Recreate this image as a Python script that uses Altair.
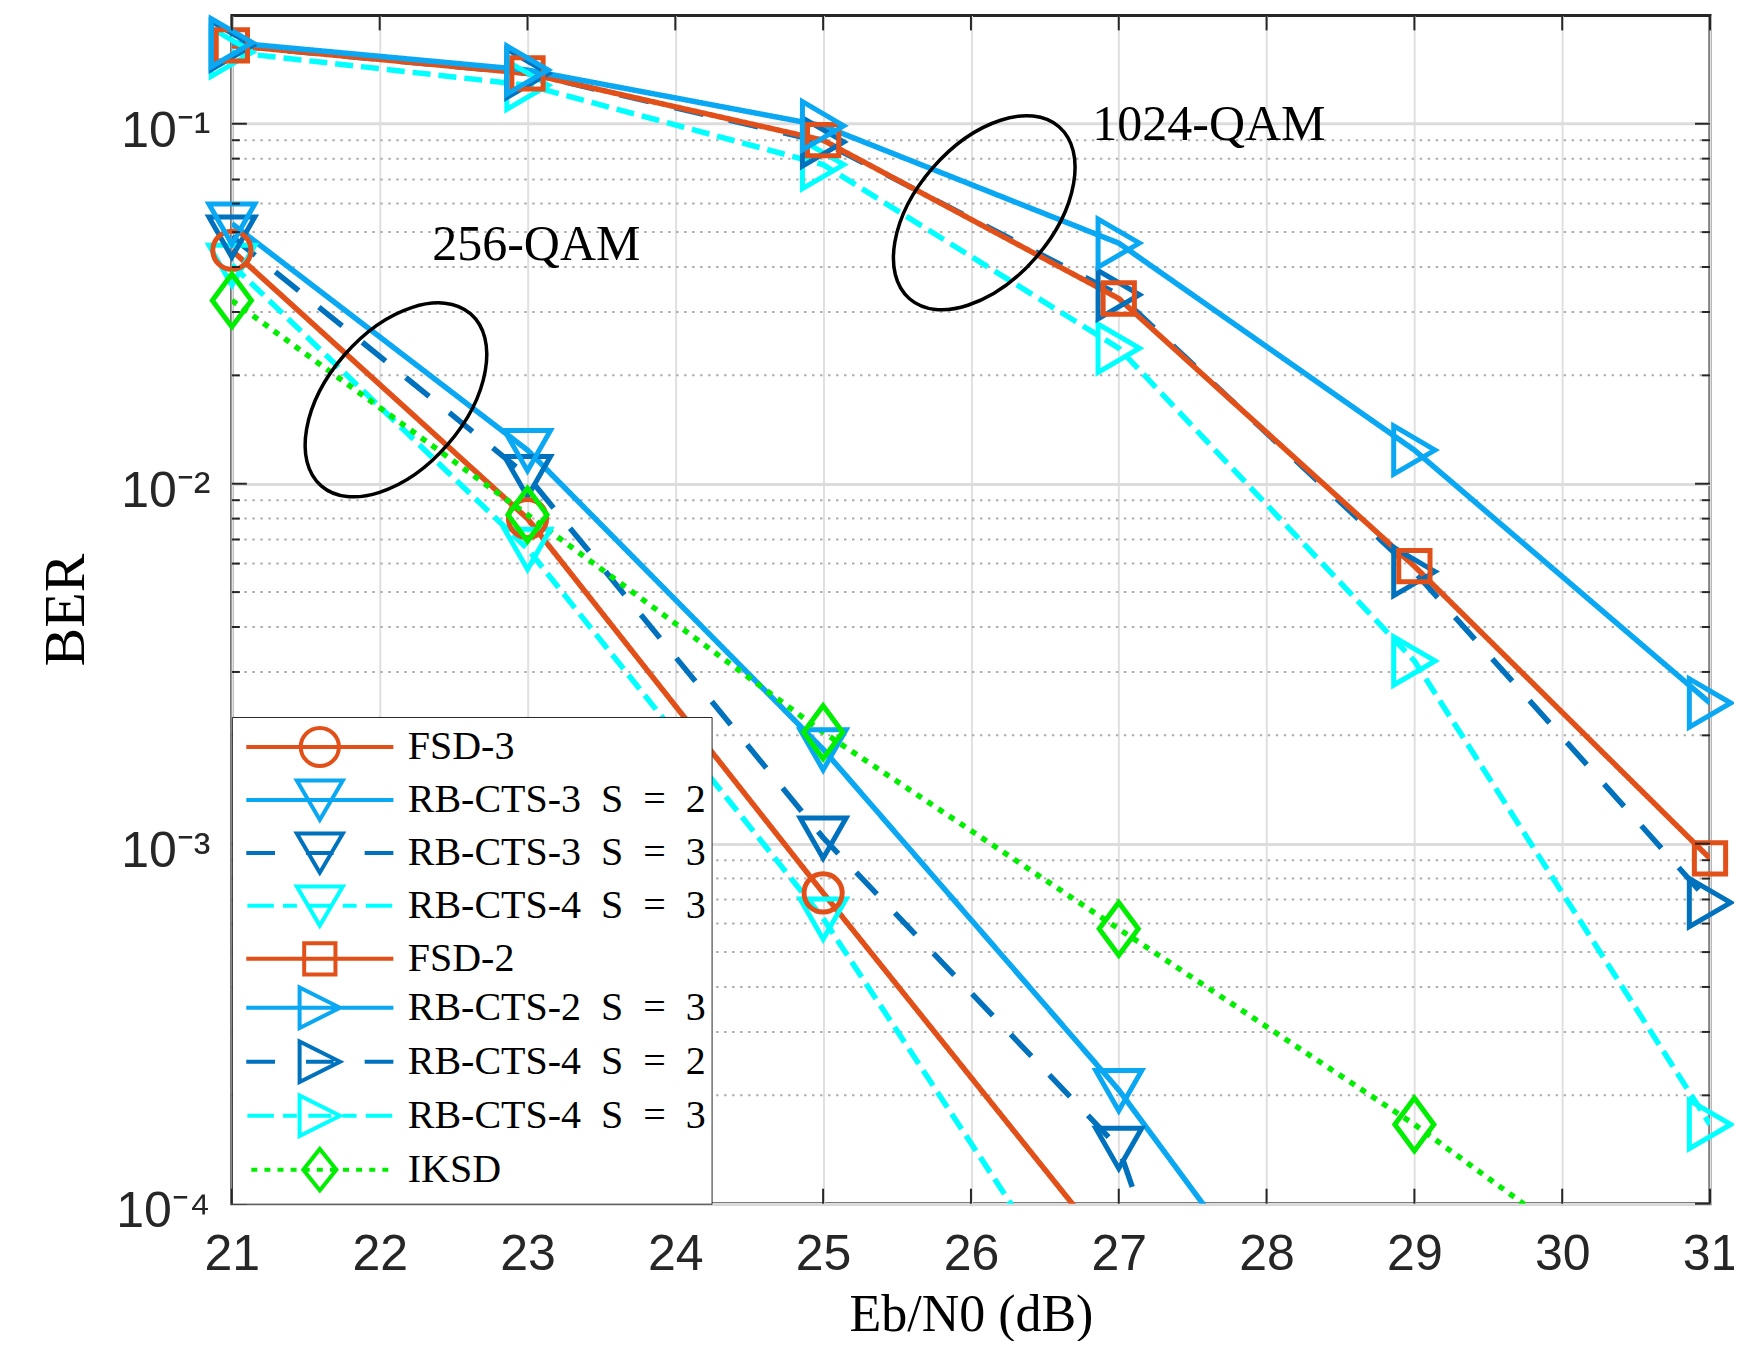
import altair as alt
import pandas as pd

# ---------------- data ----------------
SNR = [21, 23, 25, 27, 29, 31]

SP = "\u2002"   # wide space (256-QAM group labels)
FS = "\u2007"   # figure space (1024-QAM group labels)
SERIES = [
    "FSD-3",
    f"RB-CTS-3{SP}S{SP}={SP}2",
    f"RB-CTS-3{SP}S{SP}={SP}3",
    f"RB-CTS-4{SP}S{SP}={SP}3",
    "FSD-2",
    f"RB-CTS-2{FS}S{FS}={FS}3",
    f"RB-CTS-4{FS}S{FS}={FS}2",
    f"RB-CTS-4{FS}S{FS}={FS}3",
    "IKSD",
]

# 256-QAM curves
fsd3 = [0.0445, 0.0080, 7.3e-4, 6.9e-5]
rb3_s2 = [0.0528, 0.0124, 1.83e-3, 2.07e-4, 1.6e-5]
rb3_s3 = [0.0486, 0.0105, 1.04e-3, 1.43e-4, 6e-7]
rb4_s3_256 = [0.0406, 0.0066, 6.2e-4, 3.5e-5]
iksd = [0.0323, 0.0082, 2.04e-3, 5.8e-4, 1.66e-4, 4.2e-5]
# 1024-QAM curves
fsd2 = [0.165, 0.138, 0.090, 0.0327, 0.0059, 9.1e-4]
rb2_s3 = [0.168, 0.141, 0.0987, 0.0466, 0.0124, 2.46e-3]
rb4_s2 = [0.165, 0.138, 0.089, 0.0335, 0.0057, 6.86e-4]
rb4_s3_1024 = [0.158, 0.128, 0.077, 0.0238, 0.00322, 1.66e-4]

VALUES = [fsd3, rb3_s2, rb3_s3, rb4_s3_256, fsd2, rb2_s3, rb4_s2, rb4_s3_1024, iksd]
DRAW_ORDER = [3, 2, 0, 1, 7, 6, 4, 5, 8]   # which curve is painted over which

X_TICKS = [21, 22, 23, 24, 25, 26, 27, 28, 29, 30, 31]
Y_MAJOR = [1e-4, 1e-3, 1e-2, 1e-1]
Y_MINOR = [2e-4, 3e-4, 4e-4, 5e-4, 6e-4, 7e-4, 8e-4, 9e-4,
           2e-3, 3e-3, 4e-3, 5e-3, 6e-3, 7e-3, 8e-3, 9e-3,
           2e-2, 3e-2, 4e-2, 5e-2, 6e-2, 7e-2, 8e-2, 9e-2]

ANNOT_TEXT = ["256-QAM", "1024-QAM"]
ANNOT_TEXT_X = [23.06, 27.61]
ANNOT_TEXT_Y = [0.0461, 0.0994]
ELLIPSE_X = [22.11, 26.09]
ELLIPSE_Y = [0.0171, 0.0566]

# ---------------- styles ----------------
ORANGE = "#E2501A"
LBLUE = "#0AA8F2"
DBLUE = "#0072BD"
CYAN = "#00FFFF"
GREEN = "#00EE00"
COLORS = [ORANGE, LBLUE, DBLUE, CYAN, ORANGE, LBLUE, DBLUE, CYAN, GREEN]
DASHES = [[1, 0], [1, 0], [30, 26], [18, 8], [1, 0], [1, 0], [30, 26], [18, 8], [6, 7]]

# plot markers (unit = 23 px)
CIRCLE = ("M 0.83 0 C 0.83 0.4584 0.4584 0.83 0 0.83 C -0.4584 0.83 -0.83 0.4584 -0.83 0 "
          "C -0.83 -0.4584 -0.4584 -0.83 0 -0.83 C 0.4584 -0.83 0.83 -0.4584 0.83 0 Z")
TRI_DOWN = "M 0 0.9 L -1 -0.85 L 1 -0.85 Z"
SQUARE = "M -0.68 -0.68 L 0.68 -0.68 L 0.68 0.68 L -0.68 0.68 Z"
TRI_RIGHT = "M 0.9 0 L -0.9 -1.05 L -0.9 1.05 Z"
DIAMOND = "M 0 -1.15 L 0.85 0 L 0 1.15 L -0.85 0 Z"
MARKERS = [CIRCLE, TRI_DOWN, TRI_DOWN, TRI_DOWN, SQUARE, TRI_RIGHT, TRI_RIGHT, TRI_RIGHT, DIAMOND]

# legend markers (slightly flatter so the rows stay close together)
LG_TRI_DOWN = "M 0 0.86 L -1 -0.84 L 1 -0.84 Z"
LG_TRI_RIGHT = "M 0.88 0 L -0.88 -0.88 L -0.88 0.88 Z"
LG_DIAMOND = "M 0 -0.9 L 0.72 0 L 0 0.9 L -0.72 0 Z"
LG_MARKERS = [CIRCLE, LG_TRI_DOWN, LG_TRI_DOWN, LG_TRI_DOWN, SQUARE,
              LG_TRI_RIGHT, LG_TRI_RIGHT, LG_TRI_RIGHT, LG_DIAMOND]

L_SOLID = "M -3.2 0 L 3.2 0"
L_DASH = "M -3.2 0 L -1.95 0 M -0.6 0 L 0.6 0 M 1.95 0 L 3.2 0"
L_SHORTDASH = "M -3.15 0 L -2.0 0 M -1.6 0 L -1.0 0 M -0.5 0 L 0.5 0 M 1.0 0 L 1.6 0 M 2.0 0 L 3.15 0"
L_DOT = " ".join(f"M {c - 0.13:.2f} 0 L {c + 0.13:.2f} 0" for c in
                 [-2.85, -2.28, -1.71, -1.14, -0.57, 0.0, 0.57, 1.14, 1.71, 2.28, 2.85])
LINE_PATHS = [L_SOLID, L_SOLID, L_DASH, L_SHORTDASH, L_SOLID, L_SOLID, L_DASH, L_SHORTDASH, L_DOT]
LEGEND_SHAPES = [l + " " + m for l, m in zip(LINE_PATHS, LG_MARKERS)]

ELLIPSE = ("M 1 0 C 1 0.3314 0.5523 0.6 0 0.6 C -0.5523 0.6 -1 0.3314 -1 0 "
           "C -1 -0.3314 -0.5523 -0.6 0 -0.6 C 0.5523 -0.6 1 -0.3314 1 0 Z")

W, H = 1479, 1189
SERIF = "Liberation Serif"
SANS = "Liberation Sans Narrow, Liberation Sans, Arial"

# ---------------- tables ----------------
rows = []
for i in DRAW_ORDER:
    for x, y in zip(SNR, VALUES[i]):
        rows.append({"s": SERIES[i], "x": x, "y": y})
df = pd.DataFrame(rows)

xs = alt.Scale(domain=[21, 31], nice=False, zero=False)
ys = alt.Scale(type="log", domain=[1e-4, 0.2], nice=False)
col_scale = alt.Scale(domain=SERIES, range=COLORS)

x_axis = alt.Axis(values=X_TICKS, format="d", title="Eb/N0 (dB)", titleFont=SERIF,
                  titleFontSize=52, titleFontWeight="normal", titleColor="black",
                  titlePadding=10, labelFont=SANS, labelFontSize=50, labelColor="#262626",
                  labelPadding=26, ticks=False, domain=False, grid=True,
                  gridColor="#E0E0E0", gridWidth=2, labelFlush=False)
y_axis = alt.Axis(values=Y_MAJOR, title="BER", titleFont=SERIF, titleFontSize=58,
                  titleFontWeight="normal", titleColor="black", titlePadding=20,
                  labelFont=SANS, labelFontSize=50, labelColor="#262626", labelPadding=22,
                  labelOffset=8,
                  labelExpr="datum.value > 0.05 ? '10\u207b\u00b9' : datum.value > 0.005 ? '10\u207b\u00b2' : datum.value > 0.0005 ? '10\u207b\u00b3' : '10\u207b\u2074'",
                  ticks=False, domain=False, grid=True, gridColor="#DCDCDC", gridWidth=3)


def X(field):
    return alt.X(field, type="quantitative", scale=xs, axis=x_axis)


def Y(field):
    return alt.Y(field, type="quantitative", scale=ys, axis=y_axis)


minor_df = pd.DataFrame({"ym": Y_MINOR})
minor = alt.Chart(minor_df).mark_rule(color="#AFAFAF", strokeWidth=2, strokeDash=[2.5, 5.5]).encode(
    y=Y("ym")
)

lines = alt.Chart(df).mark_line(strokeWidth=5.5, clip=True).encode(
    x=X("x"),
    y=Y("y"),
    color=alt.Color("s:N", scale=col_scale, legend=None),
    strokeDash=alt.StrokeDash("s:N", scale=alt.Scale(domain=SERIES, range=DASHES), legend=None),
)

points = alt.Chart(df).transform_filter(alt.datum.y >= 1e-4).mark_point(
    filled=False, size=2116, strokeWidth=5, opacity=1
).encode(
    x=X("x"),
    y=Y("y"),
    color=alt.Color("s:N", scale=col_scale, legend=None),
    shape=alt.Shape("s:N", scale=alt.Scale(domain=SERIES, range=MARKERS), legend=None),
)

ell_df = pd.DataFrame({"x": ELLIPSE_X, "y": ELLIPSE_Y})
ellipses = alt.Chart(ell_df).mark_point(
    shape=ELLIPSE, size=51984, angle=311, filled=False, color="black", strokeWidth=3.5, opacity=1
).encode(x=X("x"), y=Y("y"))

txt_df = pd.DataFrame({"x": ANNOT_TEXT_X, "y": ANNOT_TEXT_Y, "t": ANNOT_TEXT})
texts = alt.Chart(txt_df).mark_text(font=SERIF, fontSize=50, color="black", baseline="middle").encode(
    x=X("x"), y=Y("y"), text="t:N",
)

xt_df = pd.DataFrame({"x": X_TICKS})
ymaj_df = pd.DataFrame({"y": Y_MAJOR})
ymin_df = pd.DataFrame({"y": Y_MINOR})
tick_style = dict(color="#262626", strokeWidth=2)
xt_bottom = alt.Chart(xt_df).mark_rule(**tick_style).encode(
    x=X("x"), y=alt.value(H), y2=alt.value(H - 15))
xt_top = alt.Chart(xt_df).mark_rule(**tick_style).encode(
    x=X("x"), y=alt.value(0), y2=alt.value(15))
yt_left = alt.Chart(ymaj_df).mark_rule(**tick_style).encode(
    y=Y("y"), x=alt.value(0), x2=alt.value(15))
yt_right = alt.Chart(ymaj_df).mark_rule(**tick_style).encode(
    y=Y("y"), x=alt.value(W - 15), x2=alt.value(W))
ym_left = alt.Chart(ymin_df).mark_rule(**tick_style).encode(
    y=Y("y"), x=alt.value(0), x2=alt.value(8))
ym_right = alt.Chart(ymin_df).mark_rule(**tick_style).encode(
    y=Y("y"), x=alt.value(W - 8), x2=alt.value(W))

leg = alt.Legend(
    title=None, orient="bottom-left", offset=0, padding=5, strokeColor="#262626",
    fillColor="white", symbolSize=2116, symbolStrokeWidth=4, symbolOffset=58,
    labelOffset=63, labelFont=SERIF, labelFontSize=40, labelColor="black",
    rowPadding=-18, symbolOpacity=1, labelLimit=0, cornerRadius=0,
)
legend_layer = alt.Chart(df).mark_point(filled=False, opacity=0, size=10).encode(
    x=X("x"),
    y=Y("y"),
    color=alt.Color("s:N", scale=col_scale, legend=leg),
    shape=alt.Shape("s:N", scale=alt.Scale(domain=SERIES, range=LEGEND_SHAPES), legend=leg),
)

chart = alt.layer(
    minor, lines, points, ellipses, texts,
    xt_bottom, xt_top, yt_left, yt_right, ym_left, ym_right,
    legend_layer,
).resolve_scale(
    color="independent", shape="independent", strokeDash="independent"
).properties(
    width=W, height=H,
    autosize=alt.AutoSizeParams(type="none"),
    padding={"left": 224, "top": 7, "right": 24, "bottom": 137},
    background="white",
).configure_view(stroke="#262626", strokeWidth=3)

chart.save("out.html", embed_options={"renderer": "svg", "actions": False})
